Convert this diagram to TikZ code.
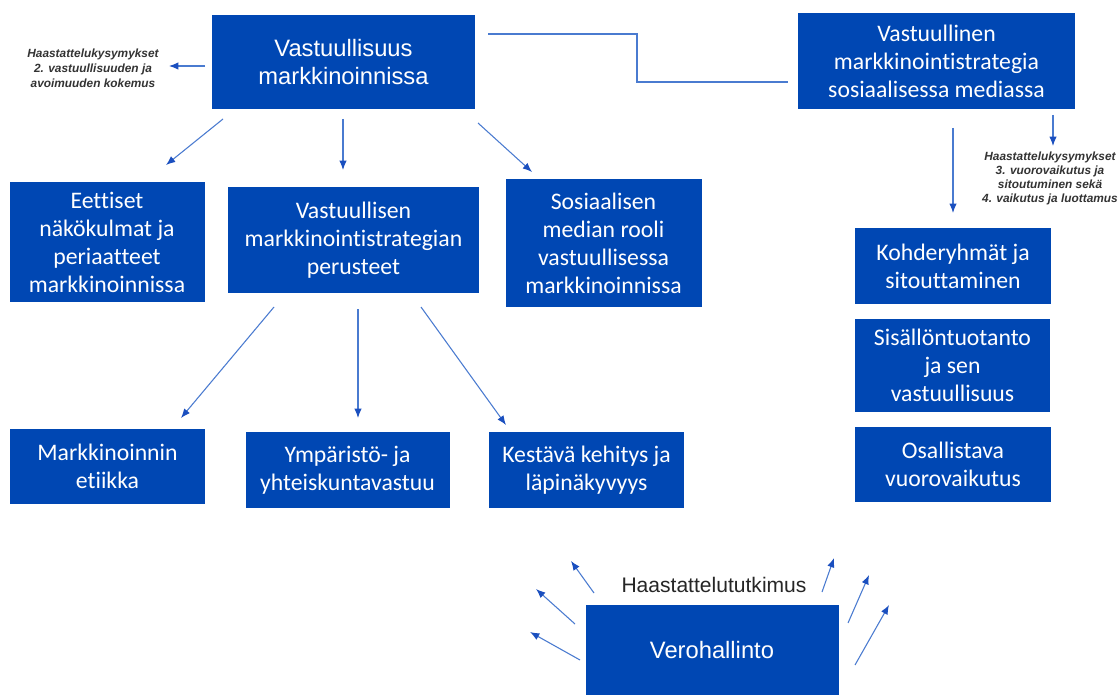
\documentclass[tikz,border=0pt]{standalone}
\usepackage{fontspec}
\setmainfont[Ligatures={NoCommon}]{Carlito}
\newfontfamily\arialf{Liberation Sans}
\usetikzlibrary{arrows.meta}
\definecolor{boxblue}{HTML}{0047B3}
\definecolor{linec}{HTML}{4A7BD0}
\definecolor{headc}{HTML}{1A4FBF}
\definecolor{notec}{HTML}{333333}
\begin{document}
\begin{tikzpicture}[x=0.75pt,y=-0.75pt,
  box/.style={fill=boxblue, text=white, align=center, inner sep=0pt,
    font=\fontsize{17.8}{21}\selectfont},
  arialbox/.style={box, font=\arialf\fontsize{17.8}{21}\selectfont},
  sz/.style 2 args={minimum width=#1*0.75pt, minimum height=#2*0.75pt},
  conn/.style={draw=linec, line width=0.8pt},
  arr/.style={conn, -{Latex[length=7pt,width=5.5pt,color=headc]}},
  note/.style={font=\arialf\bfseries\itshape\fontsize{8.9}{11.2}\selectfont,
    text=notec, align=center, inner sep=0pt},
  plain/.style={font=\arialf\fontsize{15.8}{19}\selectfont, text=black!85, inner sep=0pt}]
\useasboundingbox[fill=white] (0,0) rectangle (1120,695);

% boxes
\node[arialbox, sz={263}{94}] (b1) at (343.5,62) {Vastuullisuus\\markkinoinnissa};
\node[box, sz={277}{96}] (b2) at (936.5,61) {Vastuullinen\\markkinointistrategia\\sosiaalisessa mediassa};
\node[box, sz={195}{119}] (b3) at (107,242) {Eettiset\\näkökulmat ja\\periaatteet\\markkinoinnissa};
\node[box, sz={251}{106}] (b4) at (353.5,240) {Vastuullisen\\markkinointistrategian\\perusteet};
\node[box, sz={196}{128}] (b5) at (603.5,243) {Sosiaalisen\\median rooli\\vastuullisessa\\markkinoinnissa};
\node[box, sz={195}{75}] (b6) at (107.5,466.5) {Markkinoinnin\\etiikka};
\node[box, sz={204}{76}] (b7) at (347.5,470) {Ympäristö- ja\\yhteiskuntavastuu};
\node[box, sz={195}{76}] (b8) at (586.5,470) {Kestävä kehitys ja\\läpinäkyvyys};
\node[box, sz={196}{75}] (b9) at (953,266) {Kohderyhmät ja\\sitouttaminen};
\node[box, sz={195}{93}] (b10) at (952.5,365) {Sisällöntuotanto\\ja sen\\vastuullisuus};
\node[box, sz={196}{75}] (b11) at (953,464.5) {Osallistava\\vuorovaikutus};
\node[arialbox, sz={253}{90}] (b12) at (712,650) {Verohallinto};

% texts
\node[note] (n1) at (93,68) {Haastattelukysymykset\\2. vastuullisuuden ja\\avoimuuden kokemus};
\node[note, font=\arialf\bfseries\itshape\fontsize{8.9}{10.3}\selectfont] (n2) at (1050,178.5)
  {Haastattelukysymykset\\3. vuorovaikutus ja\\sitoutuminen sekä\\4. vaikutus ja luottamus};
\node[plain] (t1) at (714,585) {Haastattelututkimus};

% coordinates
\coordinate (c1a) at (205,66);   \coordinate (c1b) at (169,66);
\coordinate (c2a) at (488,34);   \coordinate (c2b) at (637,34);
\coordinate (c2c) at (637,82);   \coordinate (c2d) at (788,82);
\coordinate (c3a) at (1053,115); \coordinate (c3b) at (1053,146);
\coordinate (c4a) at (953,128);  \coordinate (c4b) at (953,213);
\coordinate (d1a) at (223,119);  \coordinate (d1b) at (166,165);
\coordinate (d2a) at (343,119);  \coordinate (d2b) at (343,170);
\coordinate (d3a) at (478,123);  \coordinate (d3b) at (532,172);
\coordinate (e1a) at (274,307);  \coordinate (e1b) at (181,418);
\coordinate (e2a) at (358,309);  \coordinate (e2b) at (358,418);
\coordinate (e3a) at (421,307);  \coordinate (e3b) at (506,425);
\coordinate (v1a) at (594,593);  \coordinate (v1b) at (571,561);
\coordinate (v2a) at (575,624);  \coordinate (v2b) at (536,589);
\coordinate (v3a) at (580,660);  \coordinate (v3b) at (530,632);
\coordinate (v4a) at (822,592);  \coordinate (v4b) at (834,558);
\coordinate (v5a) at (848,623);  \coordinate (v5b) at (869,575);
\coordinate (v6a) at (855,665);  \coordinate (v6b) at (889,605);

% connectors
\draw[arr] (c1a) -- (c1b);
\draw[conn] (c2a) -- (c2b) -- (c2c) -- (c2d);
\draw[arr] (c3a) -- (c3b);
\draw[arr] (c4a) -- (c4b);
\draw[arr] (d1a) -- (d1b);
\draw[arr] (d2a) -- (d2b);
\draw[arr] (d3a) -- (d3b);
\draw[arr] (e1a) -- (e1b);
\draw[arr] (e2a) -- (e2b);
\draw[arr] (e3a) -- (e3b);
\draw[arr] (v1a) -- (v1b);
\draw[arr] (v2a) -- (v2b);
\draw[arr] (v3a) -- (v3b);
\draw[arr] (v4a) -- (v4b);
\draw[arr] (v5a) -- (v5b);
\draw[arr] (v6a) -- (v6b);
\end{tikzpicture}
\end{document}
